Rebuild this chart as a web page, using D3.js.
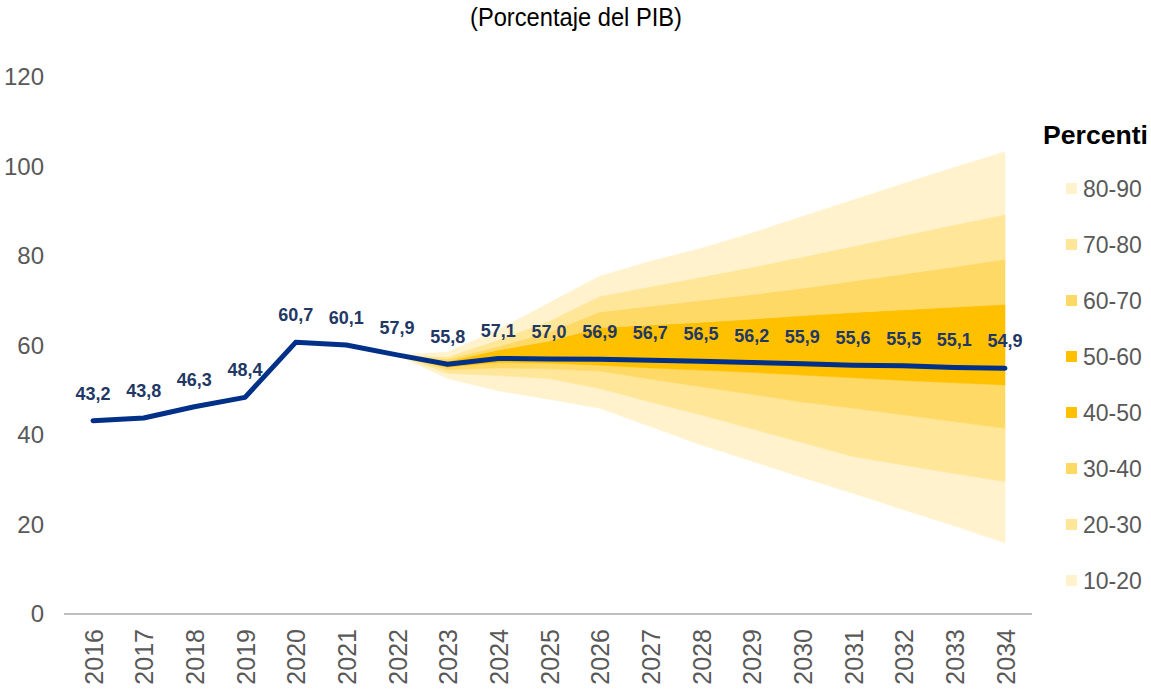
<!DOCTYPE html>
<html>
<head>
<meta charset="utf-8">
<script src="https://cdn.jsdelivr.net/npm/d3@7/dist/d3.min.js"></script>
<style>
  html, body { margin: 0; padding: 0; background: #ffffff; }
  svg { display: block; }
</style>
</head>
<body>
<div id="chart"></div>
<script>
// Deuda pública: serie histórica + proyección mediana con abanico de percentiles
const years = d3.range(2016, 2035);
const debtValues = [43.2, 43.8, 46.3, 48.4, 60.7, 60.1, 57.9, 55.8, 57.1, 57.0,
                    56.9, 56.7, 56.5, 56.2, 55.9, 55.6, 55.5, 55.1, 54.9];

// Abanico de percentiles (2022–2034)
const fanYears = d3.range(2022, 2035);
const p10 = [57.9, 52.6, 49.9, 48.0, 46.0, 41.9, 37.8, 34.2, 30.5, 27.0, 23.3, 19.7, 15.9];
const p20 = [57.9, 53.8, 53.3, 52.6, 50.4, 47.4, 44.5, 41.4, 38.3, 35.2, 33.3, 31.4, 29.6];
const p30 = [57.9, 54.6, 55.0, 54.8, 54.3, 52.5, 50.8, 49.1, 47.4, 46.0, 44.5, 43.0, 41.5];
const p40 = [57.9, 55.2, 56.2, 56.1, 55.6, 55.0, 54.5, 54.0, 53.4, 52.8, 52.2, 51.7, 51.2];
const p50 = [57.9, 55.8, 57.1, 57.0, 56.9, 56.7, 56.5, 56.2, 55.9, 55.6, 55.5, 55.1, 54.9];
const p60 = [57.9, 56.5, 59.0, 61.0, 64.0, 64.6, 65.2, 65.9, 66.7, 67.4, 68.0, 68.6, 69.2];
const p70 = [57.9, 57.0, 59.8, 63.0, 67.5, 68.8, 70.1, 71.4, 72.8, 74.4, 76.0, 77.6, 79.3];
const p80 = [57.9, 57.5, 61.3, 65.5, 71.0, 73.2, 75.3, 77.5, 79.8, 82.2, 84.6, 87.0, 89.3];
const p90 = [57.9, 58.5, 63.5, 69.5, 75.5, 78.8, 81.7, 85.1, 88.8, 92.5, 96.2, 99.8, 103.3];

const legendTitle = "Percenti";
const bandLabels = ["80-90", "70-80", "60-70", "50-60", "40-50", "30-40", "20-30", "10-20"];
const bandColors = ["#FFF2CC", "#FFE699", "#FFD966", "#FFC000", "#FFC000", "#FFD966", "#FFE699", "#FFF2CC"];
const yTicks = [0, 20, 40, 60, 80, 100, 120];

const W = 1151, H = 694;
const svg = d3.select("#chart").append("svg")
  .attr("width", W).attr("height", H)
  .style("font-family", "'Liberation Sans', Arial, sans-serif");

const x = d3.scalePoint().domain(years).range([93, 1005]);
const y = d3.scaleLinear().domain([0, 120]).range([614, 77]);

// Título
svg.append("text")
  .attr("x", 576).attr("y", 26)
  .attr("text-anchor", "middle")
  .attr("font-family", "'Liberation Sans Narrow', 'Arial Narrow', 'Liberation Sans', sans-serif")
  .attr("font-size", 25)
  .attr("textLength", 212)
  .attr("lengthAdjust", "spacingAndGlyphs")
  .attr("fill", "#000")
  .text("(Porcentaje del PIB)");

// Bandas del abanico, de abajo hacia arriba
const bounds = [p10, p20, p30, p40, p50, p60, p70, p80, p90];
const bandsBottomUp = bandColors.slice().reverse();
const area = d3.area()
  .x(d => x(d.year))
  .y0(d => y(d.lo))
  .y1(d => y(d.hi));

const fanG = svg.append("g");
for (let b = 0; b < 8; b++) {
  const pts = fanYears.map((yr, i) => ({ year: yr, lo: bounds[b][i], hi: bounds[b + 1][i] }));
  fanG.append("path")
    .datum(pts)
    .attr("d", area)
    .attr("fill", bandsBottomUp[b])
    .attr("stroke", bandsBottomUp[b])
    .attr("stroke-width", 0.6);
}

// Eje X
svg.append("line")
  .attr("x1", 64).attr("x2", 1032)
  .attr("y1", y(0)).attr("y2", y(0))
  .attr("stroke", "#BFBFBF").attr("stroke-width", 2);

const xAxis = d3.axisBottom(x).tickSize(0).tickPadding(0);
const gx = svg.append("g").attr("transform", `translate(0,${y(0)})`).call(xAxis);
gx.select(".domain").remove();
gx.selectAll("text")
  .attr("transform", "rotate(-90)")
  .attr("x", -15).attr("y", 0).attr("dy", "0.36em")
  .attr("text-anchor", "end")
  .attr("font-size", 25)
  .attr("font-family", "'Liberation Sans', Arial, sans-serif")
  .attr("fill", "#595959");

// Eje Y
const yAxis = d3.axisLeft(y).tickValues(yTicks).tickSize(0).tickPadding(0);
const gy = svg.append("g").attr("transform", "translate(44,0)").call(yAxis);
gy.select(".domain").remove();
gy.selectAll("text")
  .attr("font-size", 24)
  .attr("font-family", "'Liberation Sans', Arial, sans-serif")
  .attr("fill", "#595959");

// Línea mediana
const line = d3.line().x((d, i) => x(years[i])).y(d => y(d));
svg.append("path")
  .datum(debtValues)
  .attr("d", line)
  .attr("fill", "none")
  .attr("stroke", "#003087")
  .attr("stroke-width", 5)
  .attr("stroke-linejoin", "round")
  .attr("stroke-linecap", "round");

// Etiquetas de valores
svg.append("g").selectAll("text")
  .data(debtValues)
  .join("text")
  .attr("x", (d, i) => x(years[i]))
  .attr("y", d => y(d) - 21)
  .attr("text-anchor", "middle")
  .attr("font-size", 18)
  .attr("font-weight", "bold")
  .attr("fill", "#1F3864")
  .text(d => d.toFixed(1).replace(".", ","));

// Leyenda
svg.append("text")
  .attr("x", 1043).attr("y", 144)
  .attr("font-size", 26).attr("font-weight", "bold")
  .attr("textLength", 105)
  .attr("lengthAdjust", "spacingAndGlyphs")
  .attr("fill", "#000")
  .text(legendTitle);

const leg = svg.append("g").selectAll("g")
  .data(bandLabels)
  .join("g")
  .attr("transform", (d, i) => `translate(1066,${189 + i * 56})`);
leg.append("rect")
  .attr("x", 0).attr("y", -6).attr("width", 11).attr("height", 11)
  .attr("fill", (d, i) => bandColors[i]);
leg.append("text")
  .attr("x", 17).attr("y", 0).attr("dy", "0.36em")
  .attr("font-size", 23)
  .attr("fill", "#595959")
  .text(d => d);
</script>
</body>
</html>
